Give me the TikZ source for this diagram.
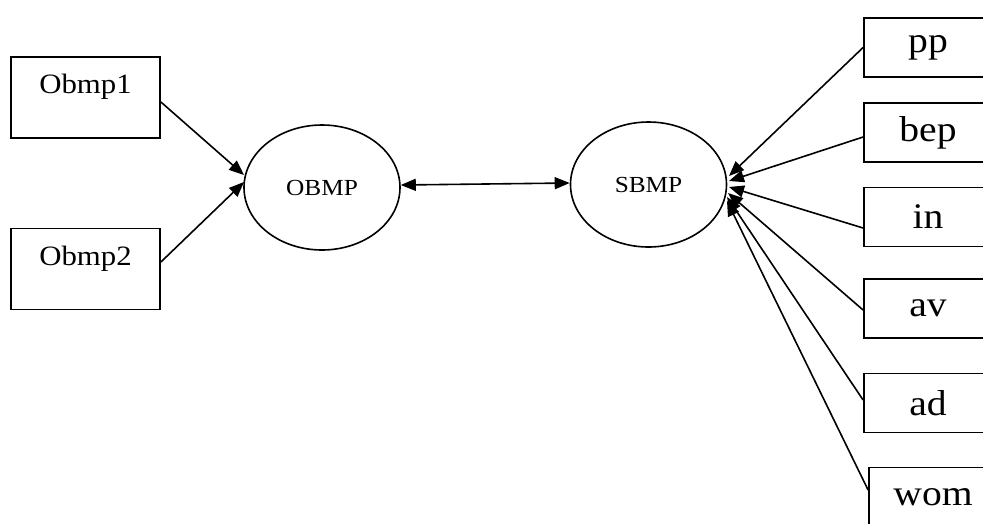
\documentclass[tikz,border=0pt]{standalone}
\usepackage{fontspec}
\setmainfont{Liberation Serif}
\usetikzlibrary{shapes.geometric,arrows.meta}
\begin{document}
\begin{tikzpicture}[x=1pt,y=-1pt,
  box/.style={draw,line width=1.8pt,rectangle,inner sep=0pt},
  ell/.style={draw,line width=1.6pt,ellipse,inner sep=0pt,minimum width=156pt,minimum height=125pt,font=\fontsize{23}{25}\selectfont},
  link/.style={line width=1.6pt,-{Triangle[length=15pt,width=12pt]}},
  dlink/.style={line width=1.6pt,{Triangle[length=15pt,width=12pt]}-{Triangle[length=15pt,width=12pt]}},
  lbox/.style={box,minimum width=149pt,minimum height=81pt},
  ltext/.style={anchor=base,inner sep=0pt,font=\fontsize{28}{30}\selectfont},
  rbox/.style={box,minimum width=128pt,minimum height=59pt,font=\fontsize{36}{38}\selectfont}
]
\useasboundingbox (0,0) rectangle (983,523);
\clip (0,0) rectangle (983,523);

% left boxes
\node[lbox] (b1) at (85.5,97.5) {};
\node[ltext] (b1t) at (85.5,93) {\scalebox{1.1}[1]{Obmp1}};
\node[lbox] (b2) at (85.5,269) {};
\node[ltext] (b2t) at (85.5,265) {\scalebox{1.1}[1]{Obmp2}};

% ellipses
\node[ell] (o) at (322,187.5) {\scalebox{1.1}[1]{OBMP}};
\node[ell] (s) at (648.5,184.5) {\scalebox{1.1}[1]{SBMP}};

% right boxes
\node[rbox] (pp)  at (928,47.5)  {\scalebox{1.1}[1]{pp}};
\node[rbox] (bep) at (928,132.5) {\scalebox{1.1}[1]{bep}};
\node[rbox] (in)  at (928,217)   {\scalebox{1.1}[1]{in}};
\node[rbox] (av)  at (928,308.5) {\scalebox{1.1}[1]{av}};
\node[rbox] (ad)  at (928,403)   {\scalebox{1.1}[1]{ad}};
\node[rbox] (wom) at (933,497)   {\scalebox{1.1}[1]{wom}};

% arrow tips on ellipses
\coordinate (o1) at (244,175);
\coordinate (o2) at (244,182);
\coordinate (t1) at (729,176);
\coordinate (t2) at (729,181);
\coordinate (t3) at (729,187);
\coordinate (t4) at (728,193);
\coordinate (t5) at (727,197);
\coordinate (t6) at (727,201);

% left connectors
\draw[link] ([yshift=-4.5pt]b1.east) -- (o1);
\draw[link] ([yshift=7pt]b2.east) -- (o2);

% double connector
\draw[dlink] ([yshift=2.5pt]o.east) -- ([yshift=1.5pt]s.west);

% right connectors
\draw[link] (pp.west) -- (t1);
\draw[link] ([yshift=-4.5pt]bep.west) -- (t2);
\draw[link] ([yshift=-11pt]in.west) -- (t3);
\draw[link] ([yshift=-1.5pt]av.west) -- (t4);
\draw[link] ([yshift=3pt]ad.west) -- (t5);
\draw[link] ([yshift=7pt]wom.west) -- (t6);
\end{tikzpicture}
\end{document}
